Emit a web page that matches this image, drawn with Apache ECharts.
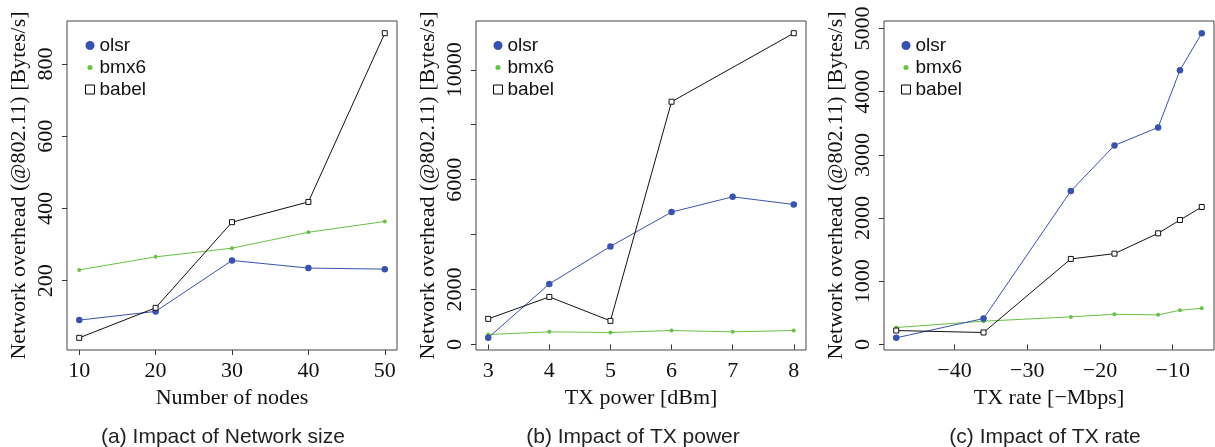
<!DOCTYPE html>
<html>
<head>
<meta charset="utf-8">
<script src="https://cdn.jsdelivr.net/npm/echarts@6/dist/echarts.min.js"></script>
<style>
html,body{margin:0;padding:0;background:#fff;}
#chart{width:1215px;height:447px;}
</style>
</head>
<body>
<div id="chart"></div>
<script>
// ---------- data ----------
// (a) Impact of Network size
const nodesX = [10, 20, 30, 40, 50];
const nodesOlsr = [91, 115, 256, 235, 232];
const nodesBmx6 = [230, 266, 290, 334, 364];
const nodesBabel = [42, 125, 362, 418, 885];
const nodesTicks = [10, 20, 30, 40, 50];
const nodesYTicks = [200, 400, 600, 800];

// (b) Impact of TX power
const powerX = [3, 4, 5, 6, 7, 8];
const powerOlsr = [243, 2205, 3571, 4820, 5376, 5096];
const powerBmx6 = [363, 460, 436, 509, 460, 509];
const powerBabelX = [3, 4, 5, 6, 8];
const powerBabel = [933, 1732, 860, 8838, 11333];
const powerTicks = [3, 4, 5, 6, 7, 8];
const powerYTicks = [0, 2000, 4000, 6000, 8000, 10000];
const powerYLabels = [0, 2000, 6000, 10000];

// (c) Impact of TX rate
const rateX = [-48, -36, -24, -18, -12, -9, -6];
const rateOlsr = [106, 411, 2429, 3150, 3435, 4341, 4926];
const rateBmx6 = [269, 369, 437, 479, 469, 542, 574];
const rateBabel = [221, 190, 1354, 1438, 1759, 1970, 2176];
const rateTicks = [-40, -30, -20, -10];
const rateYTicks = [0, 1000, 2000, 3000, 4000, 5000];

const seriesNames = ['olsr', 'bmx6', 'babel'];
const captions = ['(a) Impact of Network size', '(b) Impact of TX power', '(c) Impact of TX rate'];
const xTitles = ['Number of nodes', 'TX power [dBm]', 'TX rate [\u2212Mbps]'];
const yTitle = 'Network overhead (@802.11) [Bytes/s]';

// ---------- styling ----------
const BLUE = '#3853ad';
const GREEN = '#69c146';
const BLACK = '#111111';
const SERIF = 'Liberation Serif';
const SANS = 'Liberation Sans';

// R-style 4% extension of data range
function rExtent(arrs) {
  let mn = Infinity, mx = -Infinity;
  arrs.forEach(a => a.forEach(v => { mn = Math.min(mn, v); mx = Math.max(mx, v); }));
  const d = (mx - mn) * 0.04;
  return [mn - d, mx + d];
}
function pairs(xs, ys) { return xs.map((x, i) => [x, ys[i]]); }
const fmt = v => String(v).replace('-', '\u2212');

const grids = [
  {left: 67, top: 21, width: 330, height: 329},
  {left: 476, top: 21, width: 330, height: 329},
  {left: 884, top: 21, width: 330, height: 329}
];
const xExt = [rExtent([nodesX]), rExtent([powerX]), rExtent([rateX])];
const yExt = [rExtent([nodesOlsr, nodesBmx6, nodesBabel]),
              rExtent([powerOlsr, powerBmx6, powerBabel]),
              rExtent([rateOlsr, rateBmx6, rateBabel])];
const xTickSets = [nodesTicks, powerTicks, rateTicks];
const yTickSets = [nodesYTicks, powerYTicks, rateYTicks];
const yLabelSets = [nodesYTicks, powerYLabels, rateYTicks];

const xAxes = [0,1,2].map(i => ({
  type: 'value', gridIndex: i, min: xExt[i][0], max: xExt[i][1],
  axisLine: {show: false},
  axisTick: {show: true, length: 5, customValues: xTickSets[i], lineStyle: {color: '#333', width: 1}},
  axisLabel: {customValues: xTickSets[i], formatter: fmt, margin: 10, fontFamily: SERIF, fontSize: 22, color: '#111'},
  splitLine: {show: false},
  name: xTitles[i], nameLocation: 'middle', nameGap: 37,
  nameTextStyle: {fontFamily: SERIF, fontSize: 22, color: '#111'}
}));
const yAxes = [0,1,2].map(i => ({
  type: 'value', gridIndex: i, min: yExt[i][0], max: yExt[i][1],
  axisLine: {show: false},
  axisTick: {show: true, length: 5, customValues: yTickSets[i], lineStyle: {color: '#333', width: 1}},
  axisLabel: {customValues: yLabelSets[i], formatter: fmt, rotate: 90, margin: 10, fontFamily: SERIF, fontSize: 22, color: '#111'},
  splitLine: {show: false},
  name: yTitle, nameLocation: 'middle', nameGap: 37, nameRotate: 90,
  nameTextStyle: {fontFamily: SERIF, fontSize: 22, color: '#111'}
}));

const panelData = [
  [pairs(nodesX, nodesOlsr), pairs(nodesX, nodesBmx6), pairs(nodesX, nodesBabel)],
  [pairs(powerX, powerOlsr), pairs(powerX, powerBmx6), pairs(powerBabelX, powerBabel)],
  [pairs(rateX, rateOlsr), pairs(rateX, rateBmx6), pairs(rateX, rateBabel)]
];

const series = [];
for (let i = 0; i < 3; i++) {
  series.push({
    name: 'olsr', type: 'line', xAxisIndex: i, yAxisIndex: i, data: panelData[i][0],
    symbol: 'circle', symbolSize: 6.5, showAllSymbol: true,
    lineStyle: {color: BLUE, width: 1}, itemStyle: {color: BLUE, borderWidth: 0},
    emphasis: {disabled: true}, animation: false, z: 3
  });
  series.push({
    name: 'bmx6', type: 'line', xAxisIndex: i, yAxisIndex: i, data: panelData[i][1],
    symbol: 'circle', symbolSize: 4, showAllSymbol: true,
    lineStyle: {color: GREEN, width: 1}, itemStyle: {color: GREEN, borderWidth: 0},
    emphasis: {disabled: true}, animation: false, z: 2
  });
  series.push({
    name: 'babel', type: 'line', xAxisIndex: i, yAxisIndex: i, data: panelData[i][2],
    symbol: 'rect', symbolSize: 5, showAllSymbol: true,
    lineStyle: {color: BLACK, width: 1}, itemStyle: {color: '#fff', borderColor: BLACK, borderWidth: 1},
    emphasis: {disabled: true}, animation: false, z: 4
  });
}

const legendLeft = [80, 488, 896];
const legends = legendLeft.map(l => ({
  left: l, top: 31, orient: 'vertical', itemWidth: 9, itemHeight: 9, itemGap: 3, itemTextGap: 12,
  selectedMode: false,
  textStyle: {fontFamily: SANS, fontSize: 19, color: '#111'},
  data: [
    {name: 'olsr', icon: 'circle', itemStyle: {color: BLUE, borderWidth: 0}},
    {name: 'bmx6', icon: 'path://M0,0M10,10M5,2.2A2.8,2.8 0 1,0 5,7.8A2.8,2.8 0 1,0 5,2.2Z', itemStyle: {color: GREEN, borderWidth: 0}},
    {name: 'babel', icon: 'rect', itemStyle: {color: '#fff', borderColor: '#000', borderWidth: 1}}
  ]
}));

const captionX = [223, 633, 1045];
const graphics = captions.map((t, i) => ({
  type: 'text', x: captionX[i], y: 437,
  style: {text: t, font: '21px "' + SANS + '"', fill: '#222', textAlign: 'center', textVerticalAlign: 'middle'}
}));

const option = {
  animation: false,
  backgroundColor: '#fff',
  grid: grids.map(g => Object.assign({show: true, borderColor: '#444', borderWidth: 1, backgroundColor: 'transparent', outerBoundsMode: 'none'}, g)),
  xAxis: xAxes,
  yAxis: yAxes,
  legend: legends,
  series: series,
  graphic: graphics
};

const chart = echarts.init(document.getElementById('chart'), null, {renderer: 'canvas'});
chart.setOption(option);
</script>
</body>
</html>
